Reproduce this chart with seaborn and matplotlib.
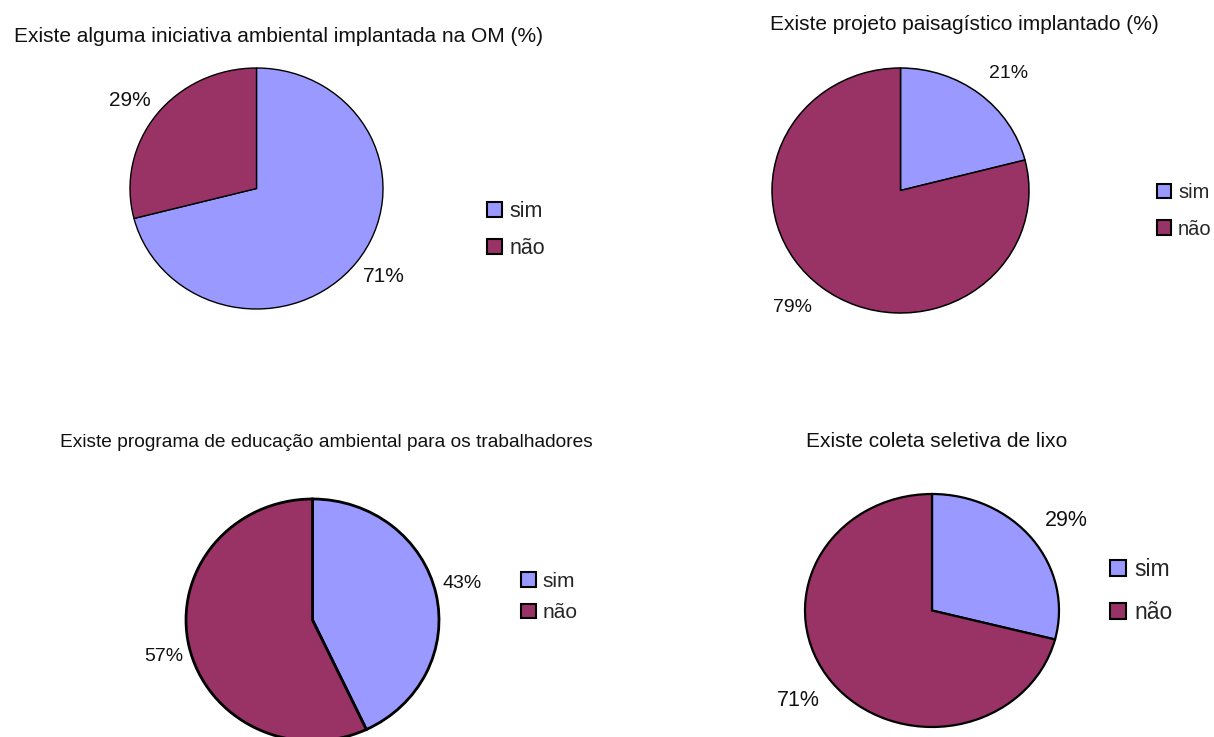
import numpy as np
import matplotlib
matplotlib.use("Agg")
import matplotlib.pyplot as plt
import seaborn as sns

# ---- data ----
categories = ["sim", "não"]
titles = [
    "Existe alguma iniciativa ambiental implantada na OM (%)",
    "Existe projeto paisagístico implantado (%)",
    "Existe programa de educação ambiental para os trabalhadores",
    "Existe coleta seletiva de lixo",
]
sim_pct = [71, 21, 43, 29]
nao_pct = [29, 79, 57, 71]

sns.set_theme(style="white")
plt.rcParams["font.family"] = ["Liberation Sans", "DejaVu Sans"]

colors = sns.color_palette(["#9999FF", "#993366"])

W, H = 1214, 737
fig = plt.figure(figsize=(W / 100, H / 100), dpi=100)
fig.patch.set_facecolor("white")

def fx(px):
    return px / W

def fy(py):
    return 1 - py / H

# layout per panel (pixel boxes)
pie_boxes = [(130, 68, 383, 309), (772, 68, 1029, 313), (186, 499, 439, 741), (805, 494, 1059, 727)]
edge_lw = [1.0, 1.1, 2.0, 1.6]
label_fs = [15, 14, 14, 15.5]
label_dist = [1.06, 1.12, 1.05, 1.12]
title_pos = [(278, 36), (964, 25), (326, 442), (937, 441)]
title_fs = [15, 15, 13.8, 15]
legend_pos = [(487, 230), (1157, 211), (521, 597), (1110, 591)]
legend_fs = [15.5, 14.5, 15, 16.5]
legend_sp = [0.78, 0.85, 0.6, 0.85]

for i in range(4):
    x0, y0, x1, y1 = pie_boxes[i]
    ax = fig.add_axes([fx(x0), fy(y1), (x1 - x0) / W, (y1 - y0) / H])
    vals = [sim_pct[i], nao_pct[i]]
    wedges, _ = ax.pie(vals, colors=colors, startangle=90, counterclock=False,
                       wedgeprops=dict(edgecolor="black", linewidth=edge_lw[i]))
    ax.set_aspect("auto")
    ax.set_xlim(-1.0, 1.0)
    ax.set_ylim(-1.0, 1.0)
    for a in ax.patches:
        a.set_clip_on(False)
    # percentage labels outside each wedge
    for w, v in zip(wedges, vals):
        ang = np.deg2rad((w.theta1 + w.theta2) / 2)
        c, s = np.cos(ang), np.sin(ang)
        d = label_dist[i]
        ax.text(d * c, d * s, f"{v}%", fontsize=label_fs[i],
                ha="left" if c > 0 else "right",
                va="bottom" if s > 0 else "top", color="#111111", clip_on=False)
    # title
    tx, ty = title_pos[i]
    fig.text(fx(tx), fy(ty), titles[i], ha="center", va="center",
             fontsize=title_fs[i], color="#111111")
    # legend
    lx, ly = legend_pos[i]
    leg = ax.legend(wedges, categories, loc="center left",
                    bbox_to_anchor=(fx(lx), fy(ly)), bbox_transform=fig.transFigure,
                    frameon=False, fontsize=legend_fs[i], handlelength=0.7,
                    handleheight=0.7, handletextpad=0.35, borderpad=0,
                    borderaxespad=0, labelspacing=legend_sp[i])
    for h in leg.legend_handles:
        h.set_linewidth(1.5)
        h.set_edgecolor("black")

fig.savefig("out.png", dpi=100, facecolor="white")
